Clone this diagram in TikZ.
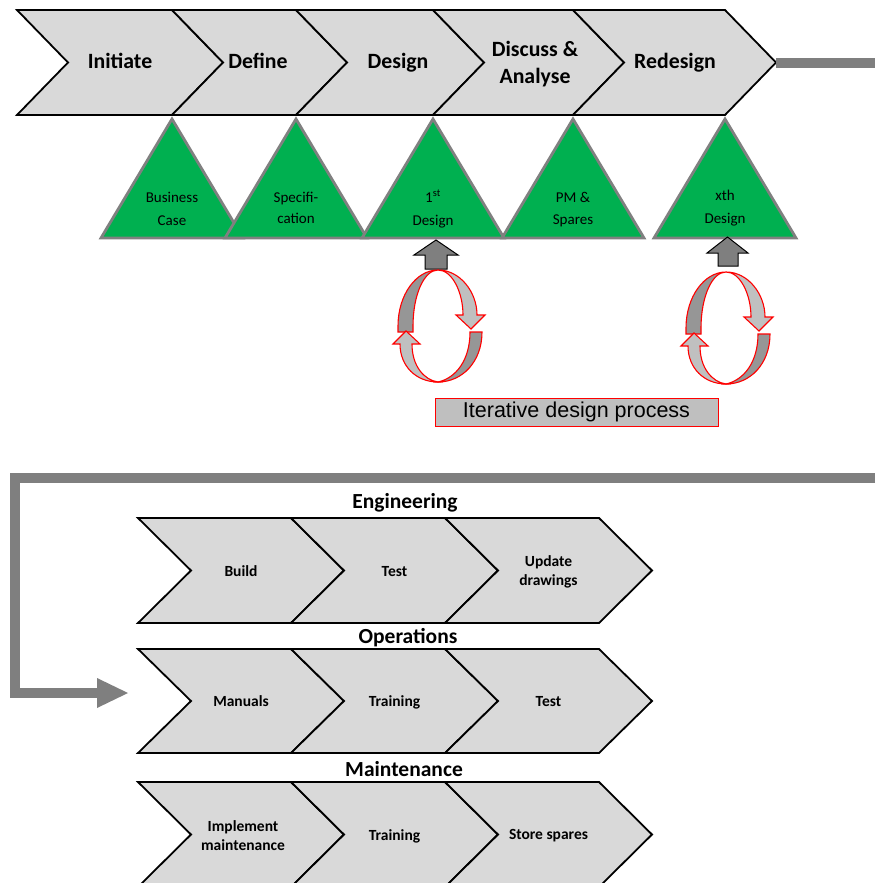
\documentclass[tikz,border=0pt]{standalone}
\usepackage{fontspec}
\setmainfont{Carlito}
\newfontfamily\arialf{Liberation Sans}
\definecolor{chevfill}{HTML}{D9D9D9}
\definecolor{tgreen}{HTML}{00B050}
\definecolor{tborder}{HTML}{808080}
\definecolor{linegray}{HTML}{7F7F7F}
\definecolor{ringdark}{HTML}{969696}
\definecolor{ringlight}{HTML}{C0C0C0}
\definecolor{uparrowc}{HTML}{7F7F7F}
\definecolor{labelbox}{HTML}{BFBFBF}
\newcommand\chev[6]{\draw[chevron] (#1,#3) -- (#2,#3) -- (#2+#6,#4) -- (#2,#5) -- (#1,#5) -- (#1+#6,#4) -- cycle;}
\newcommand\tri[2]{\draw[tribox] (#1,#2) -- (#1+71,238) -- (#1-71,238) -- cycle;}
\newcommand\ringarrows{%
  \filldraw[ringd] (0,0) .. controls (-22,0) and (-40,25) .. (-40,56) -- (-40,62) -- (-25,62) -- (-25,56) .. controls (-25,25) and (-14,0) .. (0,0) -- cycle;
  \filldraw[ringd] (32,62) -- (44,62) .. controls (44,92) and (24,112) .. (0,112) .. controls (18,108) and (32,90) .. (32,62) -- cycle;
  \filldraw[ringl] (0,0) .. controls (22,0) and (39,22) .. (39,45) -- (47,45) -- (33,59) -- (18,45) -- (25,45) .. controls (25,22) and (14,0) .. (0,0) -- cycle;
  \filldraw[ringl] (0,112) .. controls (-22,112) and (-38,96) .. (-38,74) -- (-45,74) -- (-32,61) -- (-18,74) -- (-26,74) .. controls (-26,96) and (-14,110) .. (0,112) -- cycle;
}
\tikzset{
  chevron/.style={fill=chevfill, draw=black, line width=1.8pt, line join=miter},
  tribox/.style={fill=tgreen, draw=tborder, line width=2.8pt, line join=miter},
  ringd/.style={fill=ringdark, draw=red, line width=1.1pt},
  ringl/.style={fill=ringlight, draw=red, line width=1.1pt},
  uparr/.style={fill=uparrowc, draw=black, line width=1pt},
  grayline/.style={draw=linegray, line width=10pt},
  toptext/.style={font=\fontsize{21.8}{27}\selectfont\bfseries, align=center, inner sep=0pt, anchor=base},
  tritext/.style={font=\fontsize{15}{23}\selectfont, align=center, inner sep=0pt, anchor=base},
  rowlabel/.style={font=\fontsize{21.5}{24}\selectfont\bfseries, inner sep=0pt, anchor=base},
  chevtext/.style={font=\fontsize{15.5}{19}\selectfont\bfseries, align=center, inner sep=0pt, anchor=base},
}
\begin{document}
\begin{tikzpicture}[x=1pt, y=-1pt]
\useasboundingbox (0,0) rectangle (875,883);
% top chevrons
\chev{17}{172}{10}{62.5}{115}{51}
\chev{172}{296}{10}{62.5}{115}{51}
\chev{296}{433}{10}{62.5}{115}{51}
\chev{433}{573}{10}{62.5}{115}{51}
\chev{573}{725}{10}{62.5}{115}{51}
\coordinate (toptip) at (776,63);
\coordinate (topout) at (875,63);
\draw[grayline] (toptip) -- (topout);
\node[toptext] (initiate) at (120,69) {Initiate};
\node[toptext] (define) at (258,69) {Define};
\node[toptext] (design) at (398,69) {Design};
\node[toptext] (discuss) at (535,83) {Discuss \&\\Analyse};
\node[toptext] (redesign) at (675,69) {Redesign};
% triangles
\tri{172}{119}
\tri{296}{119}
\tri{433}{119}
\tri{573}{119}
\tri{725}{119}
\node[tritext] (business) at (172,225) {Business\\Case};
\node[tritext, font=\fontsize{15}{21}\selectfont] (spec) at (296,223) {Specifi-\\cation};
\node[tritext] (first) at (433,225) {1\textsuperscript{st}\\Design};
\node[tritext, font=\fontsize{15}{22}\selectfont] (pm) at (573,224) {PM \&\\Spares};
\node[tritext] (xth) at (725,223) {xth\\Design};
% up arrows
\filldraw[uparr] (425,269) -- (425,255) -- (414,255) -- (436,240) -- (458,255) -- (447,255) -- (447,269) -- cycle;
\filldraw[uparr] (718,266) -- (718,253) -- (707,253) -- (727.5,237) -- (748,253) -- (738,253) -- (738,266) -- cycle;
% iterative cycles
\begin{scope}[shift={(438,270)}]\ringarrows\end{scope}
\begin{scope}[shift={(726,272)}]\ringarrows\end{scope}
\node[draw=red, fill=labelbox, line width=1pt, minimum width=283pt, minimum height=28pt, inner sep=0pt, font=\arialf\fontsize{21.5}{25}\selectfont] (iter) at (576.5,412) {Iterative design process};
% bottom connector
\coordinate (botin) at (875,478);
\coordinate (botend) at (99,693);
\draw[grayline] (botin) -- (15,478) -- (15,693) -- (botend);
\fill[linegray] (97,678) -- (128,693) -- (97,708) -- cycle;
% bottom rows
\chev{138}{291}{518}{570.5}{623}{53}
\chev{291}{445}{518}{570.5}{623}{53}
\chev{445}{599}{518}{570.5}{623}{53}
\chev{138}{291}{649}{701}{753}{53}
\chev{291}{445}{649}{701}{753}{53}
\chev{445}{599}{649}{701}{753}{53}
\chev{138}{291}{782}{834.5}{887}{53}
\chev{291}{445}{782}{834.5}{887}{53}
\chev{445}{599}{782}{834.5}{887}{53}
\node[rowlabel] (eng) at (405,508) {Engineering};
\node[rowlabel] (ops) at (408,643) {Operations};
\node[rowlabel] (mnt) at (404,776) {Maintenance};
\node[chevtext] (build) at (241,576) {Build};
\node[chevtext] (test1) at (394.5,576) {Test};
\node[chevtext] (update) at (548.5,585) {Update\\drawings};
\node[chevtext] (manuals) at (241,706) {Manuals};
\node[chevtext] (train1) at (394.5,706) {Training};
\node[chevtext] (test2) at (548.5,706) {Test};
\node[chevtext] (impl) at (243,850) {Implement\\maintenance};
\node[chevtext] (train2) at (394.5,840) {Training};
\node[chevtext] (store) at (548.5,839) {Store spares};
\end{tikzpicture}
\end{document}
